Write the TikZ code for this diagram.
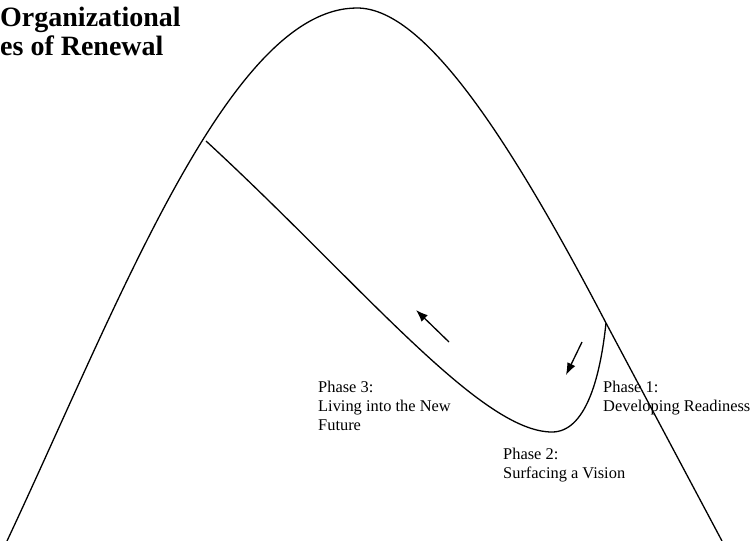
\documentclass[tikz,border=0pt]{standalone}
\usepackage{fontspec}
\setmainfont{Liberation Serif}
\usetikzlibrary{arrows.meta}
\begin{document}
\begin{tikzpicture}[x=1pt,y=-1pt,
  curve/.style={line width=1.3pt, line join=round},
  flowarrow/.style={line width=1.3pt, -{Latex[length=12pt,width=9pt]}},
  phaselabel/.style={anchor=north west, inner sep=0pt, align=left, font=\fontsize{16.4}{19}\selectfont},
  titletext/.style={anchor=base west, inner sep=0pt, font=\fontsize{28}{30}\selectfont\bfseries}]
\useasboundingbox (0,0) rectangle (756,541);
\coordinate (outerstart) at (7,541);
\coordinate (peak) at (357,8);
\coordinate (junction) at (606,323);
\coordinate (outerend) at (722,541);
\coordinate (innerstart) at (206,141);
\coordinate (bottom) at (552,432);
\draw[curve] (outerstart) .. controls (120,300) and (230,8) .. (peak)
  .. controls (420,8) and (500,120) .. (junction) -- (outerend);
\draw[curve] (innerstart) .. controls (360,283) and (480,432) .. (bottom)
  .. controls (585,432) and (600,380) .. (junction);
\coordinate (a1tail) at (449,342);
\coordinate (a1tip) at (416,310);
\coordinate (a2tail) at (582,342);
\coordinate (a2tip) at (566,375);
\draw[flowarrow] (a1tail) -- (a1tip);
\draw[flowarrow] (a2tail) -- (a2tip);
\node[phaselabel] (p3) at (318,381) {Phase 3:\\Living into the New\\Future};
\node[phaselabel] (p1) at (603,381) {Phase 1:\\Developing Readiness};
\node[phaselabel] (p2) at (503,448) {Phase 2:\\Surfacing a Vision};
\node[titletext] (t1) at (0,26) {Organizational};
\node[titletext] (t2) at (0,55) {es of Renewal};
\end{tikzpicture}
\end{document}
